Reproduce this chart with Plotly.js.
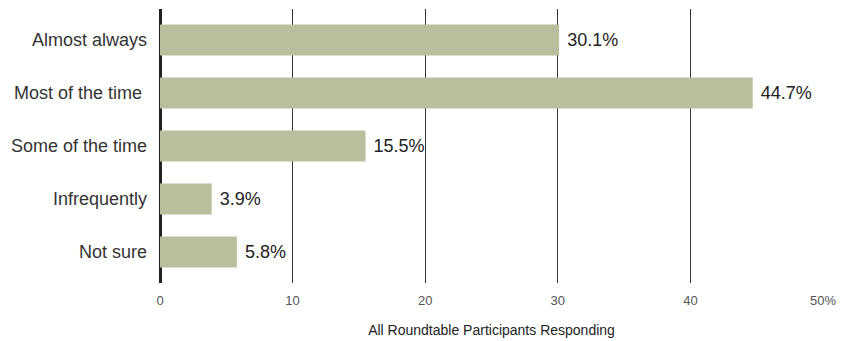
<!DOCTYPE html>
<html>
<head>
<meta charset="utf-8">
<script src="https://cdn.plot.ly/plotly-3.0.1.min.js"></script>
<style>html,body{margin:0;padding:0;background:#fff;}#chart{width:841px;height:341px;}</style>
</head>
<body>
<div id="chart"></div>
<script>
var categories = ["Almost always", "Most of the time", "Some of the time", "Infrequently", "Not sure"];
var categoryLabels = ["Almost always", "Most of the time\u00a0", "Some of the time", "Infrequently", "Not sure"];
var values = [30.1, 44.7, 15.5, 3.9, 5.8];
var tickValues = [0, 10, 20, 30, 40, 50];
var tickLabels = ["0", "10", "20", "30", "40", "50%"];
var axisTitle = "All Roundtable Participants Responding";

var trace = {
  type: "bar",
  orientation: "h",
  y: categories,
  x: values,
  marker: {color: "#b9bf9d"},
  text: values.map(function(v){ return "\u00a0" + v.toFixed(1) + "%"; }),
  textposition: "outside",
  cliponaxis: false,
  textfont: {family: "Liberation Sans, Arial, sans-serif", size: 18, color: "#222"},
  hoverinfo: "none"
};

var layout = {
  width: 841, height: 341,
  margin: {l: 160, r: 18, t: 9, b: 58},
  paper_bgcolor: "#fff", plot_bgcolor: "#fff",
  bargap: 0.415,
  showlegend: false,
  font: {family: "Liberation Sans, Arial, sans-serif"},
  xaxis: {
    range: [0, 50],
    tickvals: tickValues,
    ticktext: tickLabels,
    showgrid: true,
    gridcolor: "#333",
    gridwidth: 1,
    zeroline: true,
    zerolinecolor: "#222",
    zerolinewidth: 3,
    showline: false,
    ticks: "outside",
    ticklen: 5,
    tickcolor: "rgba(0,0,0,0)",
    tickfont: {size: 13, color: "#555"},
    title: {text: axisTitle, font: {size: 14, color: "#222"}, standoff: 18},
    fixedrange: true
  },
  yaxis: {
    type: "category",
    range: [4.585, -0.585],
    tickvals: categories,
    ticktext: categoryLabels,
    showgrid: false,
    zeroline: false,
    showline: false,
    ticks: "",
    ticklabelstandoff: 12,
    tickfont: {size: 18, color: "#333"},
    fixedrange: true
  }
};

Plotly.newPlot("chart", [trace], layout, {displayModeBar: false, staticPlot: true});
</script>
</body>
</html>
